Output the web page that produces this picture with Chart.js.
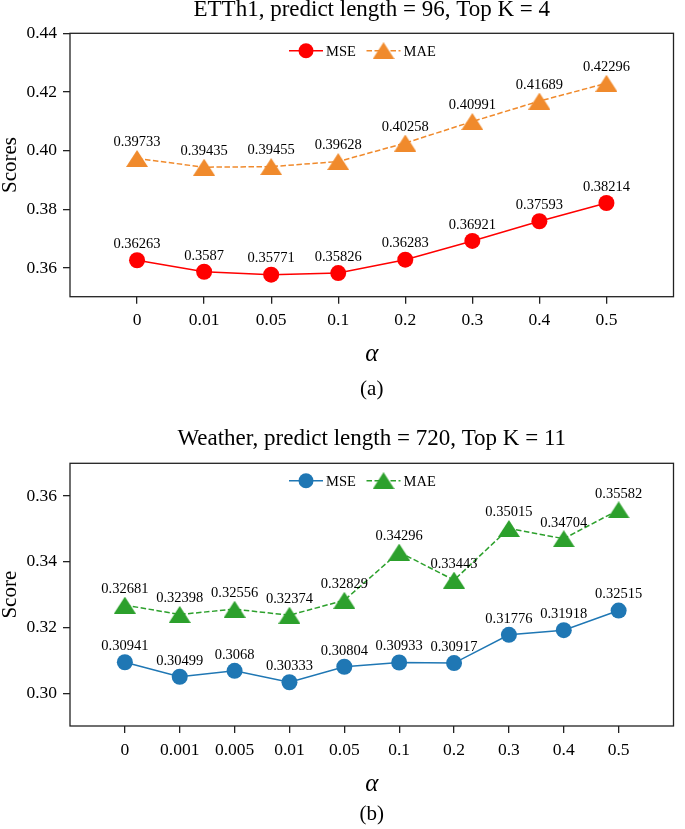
<!DOCTYPE html>
<html>
<head>
<meta charset="utf-8">
<script src="https://cdn.jsdelivr.net/npm/chart.js@4.4.1/dist/chart.umd.min.js"></script>
<style>
html,body{margin:0;padding:0;background:#fff;}
#wrap{position:relative;width:685px;height:829px;overflow:hidden;}
.box{position:absolute;left:0;width:685px;}
#boxA{top:0;height:400px;}
#boxB{top:429px;height:396px;}
canvas{display:block;}
</style>
</head>
<body>
<div id="wrap">
  <div class="box" id="boxA"><canvas id="cA" width="685" height="400" style="width:685px;height:400px"></canvas></div>
  <div class="box" id="boxB"><canvas id="cB" width="685" height="396" style="width:685px;height:396px"></canvas></div>
</div>
<script>
// ---------- data ----------
const titleA = 'ETTh1, predict length = 96, Top K = 4';
const alphaA = ['0', '0.01', '0.05', '0.1', '0.2', '0.3', '0.4', '0.5'];
const mseA = [0.36263, 0.3587, 0.35771, 0.35826, 0.36283, 0.36921, 0.37593, 0.38214];
const maeA = [0.39733, 0.39435, 0.39455, 0.39628, 0.40258, 0.40991, 0.41689, 0.42296];
const yTicksA = [0.36, 0.38, 0.40, 0.42, 0.44];

const titleB = 'Weather, predict length = 720, Top K = 11';
const alphaB = ['0', '0.001', '0.005', '0.01', '0.05', '0.1', '0.2', '0.3', '0.4', '0.5'];
const mseB = [0.30941, 0.30499, 0.3068, 0.30333, 0.30804, 0.30933, 0.30917, 0.31776, 0.31918, 0.32515];
const maeB = [0.32681, 0.32398, 0.32556, 0.32374, 0.32829, 0.34296, 0.33443, 0.35015, 0.34704, 0.35582];
const yTicksB = [0.30, 0.32, 0.34, 0.36];

// ---------- styling ----------
const FF = "'Liberation Serif','Times New Roman',serif";
Chart.defaults.font.family = FF;
Chart.defaults.color = '#000';

function triImg(color, w, h) {
  const c = document.createElement('canvas');
  c.width = w; c.height = h;
  const g = c.getContext('2d');
  g.fillStyle = color;
  g.beginPath();
  g.moveTo(w / 2, 0);
  g.lineTo(w, h);
  g.lineTo(0, h);
  g.closePath();
  g.fill();
  return c;
}

const framePlugin = {
  id: 'frame',
  afterDraw(chart) {
    const {ctx, chartArea: a} = chart;
    ctx.save();
    ctx.strokeStyle = '#222';
    ctx.lineWidth = 1.3;
    ctx.strokeRect(a.left, a.top, a.right - a.left, a.bottom - a.top);
    ctx.restore();
  }
};

const valueLabelPlugin = {
  id: 'valueLabels',
  afterDatasetsDraw(chart) {
    const ctx = chart.ctx;
    ctx.save();
    ctx.font = '14.5px ' + FF;
    ctx.fillStyle = '#000';
    ctx.textAlign = 'center';
    ctx.textBaseline = 'middle';
    chart.data.datasets.forEach((ds, i) => {
      const meta = chart.getDatasetMeta(i);
      meta.data.forEach((el, j) => {
        ctx.fillText(String(ds.data[j].y), el.x, el.y - 16);
      });
    });
    ctx.restore();
  }
};

const legendPlugin = {
  id: 'lineLegend',
  afterDraw(chart) {
    const {ctx, chartArea: a} = chart;
    let x = a.left + 219;
    const y = a.top + 17.4;
    ctx.save();
    ctx.font = '14.5px ' + FF;
    ctx.textBaseline = 'middle';
    chart.data.datasets.forEach(ds => {
      ctx.strokeStyle = ds.borderColor;
      ctx.lineWidth = ds.borderWidth;
      ctx.setLineDash(ds.borderDash || []);
      ctx.beginPath();
      ctx.moveTo(x, y);
      ctx.lineTo(x + 34, y);
      ctx.stroke();
      ctx.setLineDash([]);
      const mx = x + 17;
      if (ds.pointStyle instanceof HTMLCanvasElement) {
        ctx.drawImage(ds.pointStyle, mx - ds.pointStyle.width / 2, y - ds.pointStyle.height / 2);
      } else {
        ctx.fillStyle = ds.pointBackgroundColor;
        ctx.beginPath();
        ctx.arc(mx, y, 7.5, 0, Math.PI * 2);
        ctx.fill();
      }
      x += 37;
      ctx.fillStyle = '#000';
      ctx.fillText(ds.label, x, y + 1);
      x += ctx.measureText(ds.label).width + 10.7;
    });
    ctx.restore();
  }
};

function makeChart(id, cfg) {
  const n = cfg.labels.length;
  const pts = arr => arr.map((v, i) => ({x: i, y: v}));
  return new Chart(document.getElementById(id), {
    type: 'line',
    data: {
      datasets: [
        {
          label: 'MSE', data: pts(cfg.mse),
          borderColor: cfg.mseColor, backgroundColor: cfg.mseColor,
          pointBackgroundColor: cfg.mseColor, pointBorderColor: cfg.mseColor,
          borderWidth: 1.5, pointRadius: 8, pointBorderWidth: 0, pointStyle: 'circle',
          fill: false, tension: 0
        },
        {
          label: 'MAE', data: pts(cfg.mae),
          borderColor: cfg.maeColor, backgroundColor: cfg.maeColor,
          pointBackgroundColor: cfg.maeColor,
          borderWidth: 1.5, borderDash: [5.5, 2.5],
          pointStyle: triImg(cfg.maeColor, 22, 17), pointRadius: 10,
          fill: false, tension: 0
        }
      ]
    },
    options: {
      responsive: false,
      animation: false,
      events: [],
      layout: {padding: {left: 0, right: cfg.padRight, top: 0, bottom: 0}},
      plugins: {
        legend: {display: false},
        tooltip: {enabled: false},
        title: {
          display: true, text: cfg.title, color: '#000', fullSize: false,
          font: {family: FF, size: 23, weight: 'normal', lineHeight: 0.9},
          padding: {top: 0, bottom: cfg.titlePadBottom}
        },
        subtitle: {
          display: true, position: 'bottom', text: cfg.sub, color: '#000', fullSize: false,
          font: {family: FF, size: 21, weight: 'normal', lineHeight: 1},
          padding: 0
        }
      },
      scales: {
        x: {
          type: 'linear', min: -1, max: n,
          afterBuildTicks: s => { s.ticks = cfg.labels.map((_, i) => ({value: i})); },
          afterFit: s => { s.height = cfg.xHeight; },
          grid: {drawOnChartArea: false, drawTicks: true, tickLength: 7, color: '#222', lineWidth: 1.3},
          border: {display: false},
          ticks: {
            color: '#000', font: {family: FF, size: 17.5}, padding: cfg.xTickPad,
            maxRotation: 0, autoSkip: false,
            callback: v => (cfg.labels[v] !== undefined ? cfg.labels[v] : '')
          },
          title: {
            display: true, text: 'α', color: '#000',
            font: {family: FF, size: 25, style: 'italic', lineHeight: 1},
            padding: {top: 0, bottom: cfg.alphaPad}
          }
        },
        y: {
          type: 'linear', min: cfg.yMin, max: cfg.yMax,
          afterBuildTicks: s => { s.ticks = cfg.yTicks.map(v => ({value: v})); },
          afterFit: s => { s.width = 70; },
          grid: {drawOnChartArea: false, drawTicks: true, tickLength: 7, color: '#222', lineWidth: 1.3},
          border: {display: false},
          ticks: {
            color: '#000', font: {family: FF, size: 17.5}, padding: 6,
            callback: v => Number(v).toFixed(2)
          },
          title: {
            display: true, text: cfg.yTitle, color: '#000',
            font: {family: FF, size: 21, lineHeight: 1},
            padding: {top: 0, bottom: 0}
          }
        }
      }
    },
    plugins: [framePlugin, valueLabelPlugin, legendPlugin]
  });
}

makeChart('cA', {
  title: titleA, sub: '(a)', labels: alphaA, mse: mseA, mae: maeA, yTicks: yTicksA,
  yMin: 0.3502, yMax: 0.44, yTitle: 'Scores',
  mseColor: '#ff0000', maeColor: '#f08a2c',
  padRight: 2, titlePadBottom: 12.6, xHeight: 82.3, xTickPad: 5.8, alphaPad: 12.5
});

makeChart('cB', {
  title: titleB, sub: '(b)', labels: alphaB, mse: mseB, mae: maeB, yTicks: yTicksB,
  yMin: 0.29, yMax: 0.37, yTitle: 'Score',
  mseColor: '#1f77b4', maeColor: '#2ca02c',
  padRight: 3, titlePadBottom: 13.6, xHeight: 78, xTickPad: 6.5, alphaPad: 7
});
</script>
</body>
</html>
